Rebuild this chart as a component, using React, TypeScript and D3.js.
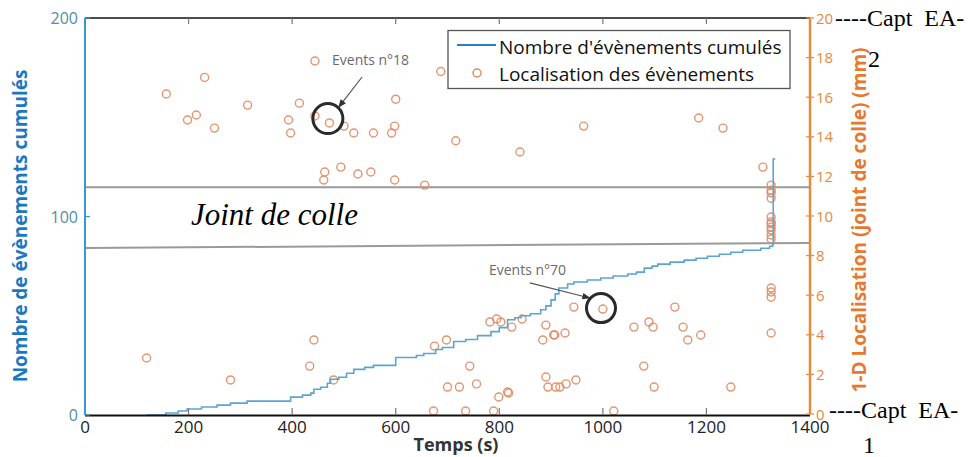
import React from "react";
import * as d3 from "d3";

// ---- data ----
const xTicks = [0, 200, 400, 600, 800, 1000, 1200, 1400];
const leftTicks = [0, 100, 200];
const rightTicks = [0, 2, 4, 6, 8, 10, 12, 14, 16, 18, 20];

const cumTimes = [120, 156, 180, 197, 225, 255, 281, 313, 397, 420, 436, 442, 455, 468, 474, 490, 505, 519, 540, 557, 600, 640, 654, 677, 690, 712, 735, 758, 784, 800, 816, 830, 842, 860, 880, 890, 900, 908, 915, 932, 944, 970, 996, 1020, 1048, 1065, 1080, 1095, 1106, 1130, 1157, 1180, 1202, 1225, 1247, 1270, 1305, 1322, 1328, 1329, 1333];
const cumCounts = [0, 1, 2, 3, 4, 5, 6, 7, 9, 10, 11, 13, 14, 16, 18, 19, 21, 23, 24, 25, 29, 30, 31, 33, 34, 37, 38, 40, 42, 44, 48, 49, 50, 51, 53, 55, 58, 61, 64, 66, 67, 68, 69, 70, 71, 72, 74, 75, 76, 77, 78, 79, 80, 81, 82, 83, 84, 85, 86, 129, 129];

const eventTimes = [119, 157, 198, 215, 231, 250, 281, 314, 393, 397, 414, 434, 442, 444, 444, 461, 463, 472, 480, 494, 500, 519, 527, 552, 557, 592, 598, 600, 598, 656, 673, 675, 687, 698, 700, 716, 723, 735, 743, 756, 782, 789, 795, 799, 803, 816, 818, 824, 840, 844, 884, 890, 890, 894, 905, 907, 909, 917, 927, 929, 944, 948, 963, 1000, 1021, 1060, 1079, 1089, 1097, 1099, 1139, 1155, 1164, 1185, 1189, 1232, 1247, 1309, 1325, 1325, 1325, 1325, 1325, 1325, 1325, 1325, 1325, 1325, 1325, 1325, 1325, 1325, 1325];
const eventLocs = [2.83, 16.16, 14.85, 15.1, 17.0, 14.44, 1.72, 15.6, 14.85, 14.19, 15.7, 2.42, 3.74, 17.83, 15.05, 11.82, 12.22, 14.7, 1.72, 12.47, 14.54, 14.19, 12.12, 12.22, 14.19, 14.19, 14.54, 15.9, 11.82, 11.56, 0.15, 3.43, 17.3, 3.74, 1.36, 13.8, 1.36, 0.15, 2.42, 1.52, 4.65, 0.15, 4.8, 0.86, 4.65, 1.11, 1.06, 4.39, 13.23, 4.8, 3.74, 4.49, 1.87, 1.36, 3.99, 3.99, 1.36, 1.36, 4.09, 1.52, 5.4, 1.72, 14.54, 5.3, 0.15, 4.39, 2.42, 4.65, 4.39, 1.36, 5.4, 4.39, 3.74, 14.95, 3.99, 14.44, 1.36, 12.47, 11.56, 11.3, 11.16, 10.9, 9.95, 9.7, 9.6, 9.44, 9.29, 9.04, 8.84, 6.36, 6.16, 5.9, 4.09];

const jointUpper = [11.45, 11.45];
const jointLower = [8.38, 8.64];
const jointX = [0, 1400];

const SANS = "'Open Sans', 'Noto Sans', sans-serif";
const SERIF = "'Liberation Serif', 'DejaVu Serif', serif";

export default function App() {
  const x = d3.scaleLinear().domain([0, 1400]).range([85, 810]);
  const yL = d3.scaleLinear().domain([0, 200]).range([415, 18]);
  const yR = d3.scaleLinear().domain([0, 20]).range([414, 18]);

  const cum = cumTimes.map((t, i) => [t, cumCounts[i]] as [number, number]);
  const cumPath = d3
    .line<[number, number]>()
    .x((d) => x(d[0]))
    .y((d) => yL(d[1]))
    .curve(d3.curveStepAfter)(cum) || "";

  const jLine = (vals: number[]) =>
    d3
      .line<number>()
      .x((_, i) => x(jointX[i]))
      .y((d) => yR(d))(vals) || "";

  const blue = "#5aa5d2";
  const orange = "#e88a3e";
  const marker = "#e08a62";

  return (
    <svg width={970} height={457} style={{ position: "absolute", left: 0, top: 0, background: "#fff" }}>
      <defs>
        <marker id="ah" viewBox="0 0 10 10" refX="9" refY="5" markerWidth="7" markerHeight="7" orient="auto">
          <path d="M0,1 L10,5 L0,9 z" fill="#333" />
        </marker>
      </defs>
      <rect width={970} height={457} fill="#fff" />

      {/* joint lines */}
      <path d={jLine(jointUpper)} stroke="#9a9a9a" strokeWidth={2} fill="none" />
      <path d={jLine(jointLower)} stroke="#9a9a9a" strokeWidth={2} fill="none" />

      {/* scatter */}
      {eventTimes.map((t, i) => (
        <circle key={i} cx={x(t)} cy={yR(eventLocs[i])} r={4} fill="none" stroke={marker} strokeWidth={1.4} opacity={0.9} />
      ))}

      {/* cumulative line */}
      <path d={cumPath} stroke={blue} strokeWidth={1.6} fill="none" />

      {/* top axis */}
      <line x1={x(0)} x2={x(1400)} y1={18} y2={18} stroke="#111" strokeWidth={1.6} />
      {xTicks.slice(1, -1).map((t) => (
        <line key={"tt" + t} x1={x(t)} x2={x(t)} y1={18} y2={24} stroke="#777" strokeWidth={1.2} />
      ))}
      {/* bottom axis */}
      <line x1={x(0)} x2={x(1400)} y1={415.5} y2={415.5} stroke="#111" strokeWidth={2.2} />
      {xTicks.slice(1, -1).map((t) => (
        <line key={"bt" + t} x1={x(t)} x2={x(t)} y1={415} y2={408} stroke="#777" strokeWidth={1.2} />
      ))}
      {xTicks.map((t) => (
        <text key={"bl" + t} x={x(t)} y={433} textAnchor="middle" fontFamily={SANS} fontSize={17} fill="#222">
          {t}
        </text>
      ))}
      <text x={456} y={451} textAnchor="middle" fontFamily={SANS} fontSize={18} fontWeight="bold" fill="#333">
        Temps (s)
      </text>

      {/* left axis */}
      <line x1={85} x2={85} y1={yL(200)} y2={yL(0)} stroke="#3a98cc" strokeWidth={2} />
      {leftTicks.map((t) => (
        <g key={"lt" + t}>
          <line x1={85} x2={90} y1={yL(t)} y2={yL(t)} stroke="#3a98cc" strokeWidth={1.2} />
          <text x={78} y={yL(t) + 6} textAnchor="end" fontFamily={SANS} fontSize={16} fill="#4f8f9d">
            {t}
          </text>
        </g>
      ))}
      <text transform="translate(27,226) rotate(-90)" textAnchor="middle" fontFamily={SANS} fontSize={19} fontWeight="bold" fill="#1b78c0">
        Nombre de évènements cumulés
      </text>

      {/* right axis */}
      <line x1={810} x2={810} y1={yR(20)} y2={yR(0)} stroke={orange} strokeWidth={2.5} />
      {rightTicks.map((t) => (
        <g key={"rt" + t}>
          <line x1={806} x2={814} y1={yR(t)} y2={yR(t)} stroke={orange} strokeWidth={1.2} />
          <text x={816} y={yR(t) + 5.5} fontFamily={SANS} fontSize={15} fill="#e68a40">
            {t}
          </text>
        </g>
      ))}
      <text transform="translate(866,220) rotate(-90)" textAnchor="middle" fontFamily={SANS} fontSize={19} fontWeight="bold" fill="#e8782f">
        1-D Localisation (joint de colle) (mm)
      </text>

      {/* Capt labels */}
      <text x={835} y={26} fontFamily={SERIF} fontSize={24} fill="#000">
        ----Capt{"\u00a0\u00a0"}EA-
      </text>
      <text x={868} y={67} fontFamily={SERIF} fontSize={24} fill="#000">2</text>
      <text x={829} y={418} fontFamily={SERIF} fontSize={24} fill="#000">
        ----Capt{"\u00a0\u00a0"}EA-
      </text>
      <text x={863} y={453} fontFamily={SERIF} fontSize={24} fill="#000">1</text>

      {/* Joint de colle */}
      <text x={191} y={225} fontFamily={SERIF} fontSize={31} fontStyle="italic" fill="#000">
        Joint de colle
      </text>

      {/* annotations */}
      <text x={x(477)} y={yR(17.63)} fontFamily={SANS} fontSize={14} fill="#6a6a6a">Events n°18</text>
      <line x1={x(535)} y1={yR(17.02)} x2={x(490)} y2={yR(15.5)} stroke="#555" strokeWidth={1.2} markerEnd="url(#ah)" />
      <circle cx={x(469)} cy={yR(14.92)} r={15} fill="none" stroke="#2a2a2a" strokeWidth={3} />

      <text x={x(780)} y={yR(7.02)} fontFamily={SANS} fontSize={14} fill="#6a6a6a">Events n°70</text>
      <line x1={x(859)} y1={yR(6.62)} x2={x(975)} y2={yR(5.86)} stroke="#555" strokeWidth={1.2} markerEnd="url(#ah)" />
      <circle cx={x(996.4)} cy={yR(5.35)} r={14.5} fill="none" stroke="#2a2a2a" strokeWidth={3} />

      {/* legend */}
      <rect x={448} y={30.5} width={342} height={58} fill="#fff" stroke="#555" strokeWidth={1.3} />
      <line x1={457} x2={496} y1={45} y2={45} stroke="#2a80c6" strokeWidth={2.2} />
      <text x={499} y={54} fontFamily={SANS} fontSize={19} fill="#111">Nombre d'évènements cumulés</text>
      <circle cx={477} cy={73} r={4} fill="none" stroke={marker} strokeWidth={1.4} />
      <text x={499} y={81} fontFamily={SANS} fontSize={19} fill="#111">Localisation des évènements</text>
    </svg>
  );
}
